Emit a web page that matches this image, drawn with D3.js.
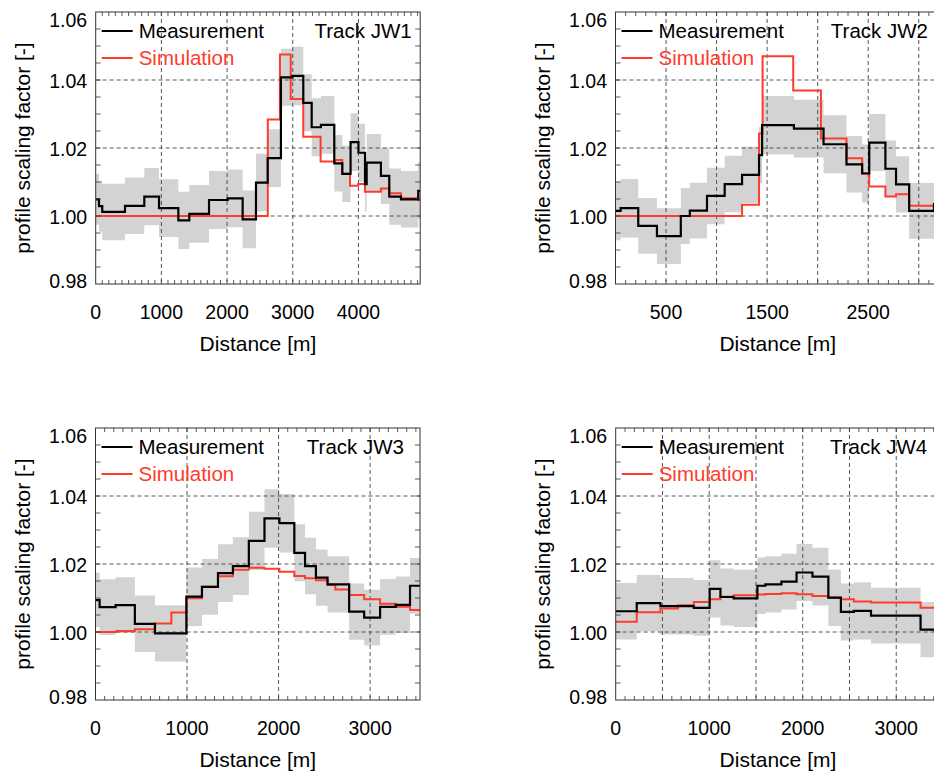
<!DOCTYPE html>
<html><head><meta charset="utf-8">
<script src="https://cdn.jsdelivr.net/npm/d3@7"></script>
<style>
body{margin:0;background:#fff}
svg{display:block}
text{font-family:"Liberation Sans",Arial,Helvetica,sans-serif}
</style>
</head><body>
<svg id="c" width="934" height="774"></svg>
<script>
// ---------------- DATA ----------------
// Track JW1
const jw1MeasX = [0, 50, 100, 446, 740, 964, 1258, 1425, 1725, 2009, 2237, 2440, 2618, 2820, 2993, 3160, 3288, 3429, 3632, 3754, 3880, 4000, 4100, 4125, 4342, 4469, 4647, 4910, 4940];
const jw1MeasY = [1.0049, 1.0029, 1.0012, 1.0030, 1.0057, 1.0023, 0.9987, 1.0006, 1.0047, 1.0052, 0.9990, 1.0098, 1.0170, 1.0408, 1.0412, 1.0333, 1.0261, 1.0268, 1.0155, 1.0124, 1.0217, 1.0186, 1.0094, 1.0157, 1.0118, 1.0057, 1.0049, 1.0074];
const jw1Err   = [0.0075, 0.0075, 0.0083, 0.0083, 0.0084, 0.0085, 0.0084, 0.0085, 0.0085, 0.0085, 0.0085, 0.0085, 0.0085, 0.0084, 0.0086, 0.0084, 0.0085, 0.0085, 0.0083, 0.0083, 0.0085, 0.0085, 0.0081, 0.0084, 0.0083, 0.0083, 0.0083, 0.0083];
const jw1SimX  = [0, 2620, 2805, 2968, 3160, 3424, 3642, 3754, 3871, 3997, 4099, 4342, 4469, 4647, 4910, 4940];
const jw1SimY  = [1.0000, 1.0284, 1.0475, 1.0344, 1.0233, 1.0160, 1.0165, 1.0124, 1.0089, 1.0094, 1.0071, 1.0081, 1.0067, 1.0052, 1.0047];

// Track JW2
const jw2MeasX = [0, 51, 225, 410, 646, 735, 905, 1080, 1252, 1420, 1450, 1765, 2058, 2285, 2440, 2510, 2670, 2775, 2905, 3150, 3210];
const jw2MeasY = [1.0015, 1.0023, 0.9971, 0.9941, 1.0000, 1.0016, 1.0059, 1.0094, 1.0121, 1.0179, 1.0267, 1.0257, 1.0211, 1.0152, 1.0125, 1.0216, 1.0139, 1.0093, 1.0015, 1.0035];
const jw2Err   = [0.0086, 0.0086, 0.0082, 0.0082, 0.0082, 0.0082, 0.0083, 0.0083, 0.0083, 0.0083, 0.0086, 0.0085, 0.0085, 0.0083, 0.0085, 0.0084, 0.0083, 0.0083, 0.0082, 0.0083];
const jw2SimX  = [0, 1252, 1420, 1455, 1758, 2032, 2285, 2440, 2510, 2670, 2775, 2905, 3210];
const jw2SimY  = [1.0000, 1.0033, 1.0243, 1.0470, 1.0369, 1.0228, 1.0170, 1.0126, 1.0087, 1.0057, 1.0064, 1.0030];

// Track JW3
const jw3MeasX = [0, 45, 220, 430, 650, 993, 1163, 1338, 1501, 1675, 1846, 2009, 2172, 2289, 2408, 2535, 2771, 2935, 3109, 3280, 3436, 3545];
const jw3MeasY = [1.0094, 1.0073, 1.0079, 1.0024, 0.9996, 1.0104, 1.0133, 1.0173, 1.0194, 1.0268, 1.0334, 1.0320, 1.0233, 1.0194, 1.0160, 1.0140, 1.0060, 1.0042, 1.0074, 1.0080, 1.0136];
const jw3Err   = [0.0080, 0.0082, 0.0082, 0.0083, 0.0083, 0.0086, 0.0082, 0.0085, 0.0085, 0.0086, 0.0086, 0.0086, 0.0084, 0.0083, 0.0083, 0.0083, 0.0083, 0.0082, 0.0082, 0.0083, 0.0082];
const jw3SimX  = [0, 230, 430, 648, 829, 993, 1163, 1338, 1501, 1675, 1846, 2009, 2172, 2289, 2408, 2535, 2620, 2771, 2935, 3109, 3280, 3436, 3545];
const jw3SimY  = [1.0000, 1.0003, 1.0008, 1.0025, 1.0057, 1.0099, 1.0133, 1.0164, 1.0183, 1.0189, 1.0186, 1.0177, 1.0165, 1.0158, 1.0152, 1.0138, 1.0125, 1.0109, 1.0096, 1.0083, 1.0074, 1.0065];

// Track JW4
const jw4MeasX = [0, 225, 478, 835, 1005, 1120, 1261, 1515, 1600, 1772, 1934, 2104, 2274, 2408, 2547, 2730, 3260, 3470];
const jw4MeasY = [1.0061, 1.0085, 1.0076, 1.0071, 1.0127, 1.0103, 1.0099, 1.0136, 1.0140, 1.0148, 1.0175, 1.0163, 1.0101, 1.0059, 1.0062, 1.0048, 1.0007];
const jw4Err   = [0.0083, 0.0083, 0.0083, 0.0082, 0.0084, 0.0084, 0.0084, 0.0083, 0.0083, 0.0082, 0.0084, 0.0085, 0.0083, 0.0084, 0.0084, 0.0082, 0.0081];
const jw4SimX  = [0, 225, 478, 665, 835, 1005, 1120, 1261, 1515, 1600, 1772, 1934, 2104, 2274, 2408, 2547, 2730, 3260, 3470];
const jw4SimY  = [1.0030, 1.0058, 1.0069, 1.0079, 1.0088, 1.0096, 1.0104, 1.0108, 1.0110, 1.0112, 1.0114, 1.0111, 1.0106, 1.0101, 1.0096, 1.0090, 1.0087, 1.0071];

// Axes / labels
const trackNames   = ["Track JW1", "Track JW2", "Track JW3", "Track JW4"];
const xDomainMax   = [4940, 3210, 3545, 3470];
const xTickLabels  = [[0, 1000, 2000, 3000, 4000], [500, 1500, 2500], [0, 1000, 2000, 3000], [0, 1000, 2000, 3000]];
const xGridValues  = [[1000, 2000, 3000, 4000], [500, 1000, 1500, 2000, 2500, 3000], [1000, 2000, 3000], [500, 1000, 1500, 2000, 2500, 3000]];
const yTickLabels  = [0.98, 1.00, 1.02, 1.04, 1.06];
const yGridValues  = [1.00, 1.02, 1.04];
const seriesNames  = ["Measurement", "Simulation"];
const xTitle = "Distance [m]";
const yTitle = "profile scaling factor [-]";

// ---------------- LAYOUT ----------------
const W = 324.5, H = 272;
const layout = [
  {left: 95.7,  top: 12,  trackRight: 316},
  {left: 615.5, top: 12,  trackRight: 312.5},
  {left: 95.5,  top: 428, trackRight: 308.5},
  {left: 615.7, top: 428, trackRight: 311.5}
];
const tracks = [
  {mx: jw1MeasX, my: jw1MeasY, err: jw1Err, sx: jw1SimX, sy: jw1SimY},
  {mx: jw2MeasX, my: jw2MeasY, err: jw2Err, sx: jw2SimX, sy: jw2SimY},
  {mx: jw3MeasX, my: jw3MeasY, err: jw3Err, sx: jw3SimX, sy: jw3SimY},
  {mx: jw4MeasX, my: jw4MeasY, err: jw4Err, sx: jw4SimX, sy: jw4SimY}
];

const RED = "#ff3b2b", BAND = "#d3d3d3", AXIS = "#333";
const svg = d3.select("#c");

function stepPoints(xs, ys, extra) {
  const pts = ys.map((v, i) => ({x: xs[i], y: v, e: extra ? extra[i] : 0}));
  pts.push({x: xs[xs.length - 1], y: ys[ys.length - 1], e: extra ? extra[extra.length - 1] : 0});
  return pts;
}

layout.forEach((L, k) => {
  const T = tracks[k];
  const g = svg.append("g").attr("transform", `translate(${L.left},${L.top})`);
  const x = d3.scaleLinear().domain([0, xDomainMax[k]]).range([0, W]);
  const y = d3.scaleLinear().domain([0.98, 1.06]).range([H, 0]);

  const clipId = "clip" + k;
  g.append("clipPath").attr("id", clipId).append("rect").attr("width", W).attr("height", H);
  const plot = g.append("g").attr("clip-path", `url(#${clipId})`);

  // band
  const mPts = stepPoints(T.mx, T.my, T.err);
  plot.append("path").datum(mPts)
    .attr("fill", BAND)
    .attr("d", d3.area().curve(d3.curveStepAfter)
      .x(d => x(d.x)).y0(d => y(d.y - d.e)).y1(d => y(d.y + d.e)));

  // grid
  plot.selectAll(".gx").data(xGridValues[k]).join("line")
    .attr("x1", d => x(d)).attr("x2", d => x(d)).attr("y1", 0).attr("y2", H)
    .attr("stroke", "#444").attr("stroke-width", 0.9).attr("stroke-dasharray", "4,3");
  plot.selectAll(".gy").data(yGridValues).join("line")
    .attr("x1", 0).attr("x2", W).attr("y1", d => y(d)).attr("y2", d => y(d))
    .attr("stroke", "#444").attr("stroke-width", 0.9).attr("stroke-dasharray", "4,3");

  // lines
  const line = d3.line().curve(d3.curveStepAfter).x(d => x(d.x)).y(d => y(d.y));
  plot.append("path").datum(stepPoints(T.sx, T.sy))
    .attr("fill", "none").attr("stroke", RED).attr("stroke-width", 2).attr("d", line);
  plot.append("path").datum(mPts)
    .attr("fill", "none").attr("stroke", "#000").attr("stroke-width", 2.2).attr("d", line);

  // minor ticks
  const xMinor = d3.range(100, xDomainMax[k], 100);
  const yMinor = d3.range(0.985, 1.0599, 0.005);
  const tk = g.append("g").attr("stroke", AXIS).attr("stroke-width", 0.8);
  xMinor.forEach(v => {
    tk.append("line").attr("x1", x(v)).attr("x2", x(v)).attr("y1", H).attr("y2", H - 4);
    tk.append("line").attr("x1", x(v)).attr("x2", x(v)).attr("y1", 0).attr("y2", 4);
  });
  yMinor.forEach(v => {
    tk.append("line").attr("x1", 0).attr("x2", 5).attr("y1", y(v)).attr("y2", y(v));
    tk.append("line").attr("x1", W).attr("x2", W - 5).attr("y1", y(v)).attr("y2", y(v));
  });

  // frame
  g.append("rect").attr("width", W).attr("height", H)
    .attr("fill", "none").attr("stroke", AXIS).attr("stroke-width", 1);

  // tick labels
  g.selectAll(".xl").data(xTickLabels[k]).join("text")
    .attr("x", d => x(d)).attr("y", H + 35)
    .attr("text-anchor", "middle").attr("font-size", 19.5).attr("fill", "#000")
    .text(d => d);
  g.selectAll(".yl").data(yTickLabels).join("text")
    .attr("x", -8.5)
    .attr("y", (d, i) => y(d) + (i === 0 ? 4 : i === yTickLabels.length - 1 ? 15 : 8))
    .attr("text-anchor", "end").attr("font-size", 19.5).attr("fill", "#000")
    .text(d => d3.format(".2f")(d));

  // titles
  g.append("text").attr("x", W / 2).attr("y", H + 67)
    .attr("text-anchor", "middle").attr("font-size", 21).text(xTitle);
  g.append("text").attr("transform", `translate(-66,${H / 2}) rotate(-90)`)
    .attr("text-anchor", "middle").attr("font-size", 21).text(yTitle);

  // legend
  const lg = g.append("g");
  [["#000", 19], [RED, 46]].forEach(([c, yy], i) => {
    lg.append("line").attr("x1", 6).attr("x2", 37).attr("y1", yy).attr("y2", yy)
      .attr("stroke", c).attr("stroke-width", 2);
    lg.append("text").attr("x", 43).attr("y", yy + 7).attr("font-size", 20.5)
      .attr("fill", c).text(seriesNames[i]);
  });
  g.append("text").attr("x", L.trackRight).attr("y", 26)
    .attr("text-anchor", "end").attr("font-size", 20.5).attr("fill", "#000").text(trackNames[k]);
});
</script>
</body></html>
